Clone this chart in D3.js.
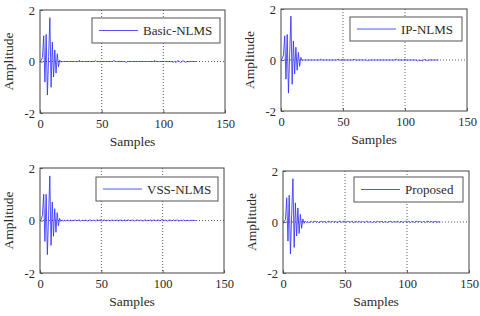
<!DOCTYPE html>
<html><head><meta charset="utf-8">
<script src="https://cdn.jsdelivr.net/npm/d3@7"></script>
<style>
html,body{margin:0;padding:0;background:#fff;}
svg{display:block;}
svg text{font-family:"Liberation Serif","Times New Roman",serif;}
</style></head>
<body><svg id="c" width="480" height="316"></svg>
<script>
// ---- data ----
const seriesNames = ["Basic-NLMS", "IP-NLMS", "VSS-NLMS", "Proposed"];
const xTicks = [0, 50, 100, 150];
const yTicks = [-2, 0, 2];
const xLabel = "Samples";
const yLabel = "Amplitude";

const basicNLMS = [
  0, 0.05, 0.15, 1.0, -0.8, 1.05, -1.3, 0.2, 1.7, -1.0,
  0.75, -0.6, 0.45, -0.45, 0.3, -0.2, 0.05, -0.02, 0, 0,
  0, 0, 0, 0, 0, 0, 0, 0, 0, 0,
  0, 0, 0.04, 0, 0, 0, 0, 0, 0, 0,
  0, 0, 0, 0, 0, 0.03, 0, 0, 0, 0,
  0, 0, 0, 0, 0, 0, 0, 0, 0, 0,
  0.04, 0, 0, 0, 0, 0, 0, 0, 0, 0,
  -0.04, 0, 0, 0, 0, 0, 0, 0, 0, 0,
  0, 0, 0, 0, 0, 0, 0, 0, 0, 0,
  0, 0, 0, 0.04, 0, 0, 0, 0, 0, 0,
  0, 0, 0, 0, 0, 0, 0, 0, -0.03, 0,
  -0.04, 0, 0.03, 0, -0.04, 0, 0.03, 0, -0.03, 0,
  0, 0, 0, 0, 0, 0, 0, 0
];
const ipNLMS = [
  0, 0.05, 0.2, 0.95, -0.75, 1.0, -1.3, 0.25, 1.72, -0.95,
  0.75, -0.55, 0.5, -0.4, 0.3, -0.25, 0.1, -0.03, 0, 0,
  0, 0, 0, 0, 0, 0, 0, 0, 0, 0,
  0, 0, 0.03, 0, 0, 0, 0, 0, 0, 0,
  0, 0, 0, 0, 0, 0, 0.03, 0, 0, 0,
  0.02, 0, 0, 0, 0, 0, 0, 0, 0, 0.03,
  0, 0, 0, 0, 0, 0, 0, 0, 0, 0,
  -0.03, 0, 0, 0, 0, 0, 0, 0, 0, 0,
  0, 0, 0, 0, 0, 0, 0, 0, 0, 0,
  0, 0, 0, 0.03, 0, 0, 0, 0, 0, 0,
  0.02, 0, 0, 0, 0, 0, 0, 0, 0, 0,
  -0.04, 0, -0.03, 0, -0.04, 0, 0.02, 0, -0.03, 0,
  0, 0, 0, 0, 0, 0, 0, 0
];
const vssNLMS = [
  0, 0.05, 0.2, 1.0, -0.8, 1.0, -1.3, 0.2, 1.7, -0.95,
  0.7, -0.6, 0.45, -0.45, 0.3, -0.2, 0.08, -0.03, 0.02, -0.02,
  0.01, -0.02, 0.02, 0, -0.01, 0.02, -0.02, 0.01, 0, 0.02,
  -0.01, 0.01, 0.02, -0.02, 0, 0.01, -0.01, 0.02, 0, -0.02,
  0.01, 0.02, -0.01, 0, 0.02, -0.02, 0.01, 0.03, -0.01, 0.02,
  0, -0.02, 0.02, 0.01, -0.01, 0, 0.02, -0.02, 0.01, 0.02,
  -0.01, 0.01, 0, 0.02, -0.02, 0.01, 0.02, -0.01, 0, 0.02,
  -0.02, 0.01, 0.02, 0, -0.01, 0.02, 0.01, -0.02, 0, 0.02,
  0.01, -0.01, 0.02, 0, -0.02, 0.01, 0.02, -0.01, 0.01, 0,
  0.02, -0.02, 0.01, 0.02, 0, -0.01, 0.02, 0.01, -0.02, 0.03,
  0.01, -0.01, 0.02, 0, -0.02, 0.01, 0.02, -0.01, 0, 0.02,
  -0.01, 0.01, 0.02, -0.02, 0, 0.01, -0.01, 0.02, 0, -0.01,
  0.01, 0, -0.01, 0.01, 0, 0.01, 0, 0
];
const proposed = [
  0, 0.02, 0.1, 0.95, -0.75, 1.05, -1.25, 0.3, 1.7, -1.0,
  0.75, -0.55, 0.55, -0.45, 0.3, -0.25, 0.12, -0.05, 0.03, -0.02,
  0.02, -0.03, 0.01, 0.03, -0.02, 0.02, 0.03, -0.01, 0.02, -0.03,
  0.01, 0.03, -0.02, 0.02, 0.01, -0.03, 0.02, 0.03, -0.01, 0.01,
  0.03, -0.02, 0.02, 0, -0.03, 0.02, 0.03, -0.02, 0.01, 0.03,
  0.02, -0.02, 0.03, 0.01, -0.02, 0.02, 0.03, -0.03, 0.01, 0.02,
  -0.02, 0.03, 0.01, -0.02, 0.02, 0.01, -0.03, 0.02, 0.03, -0.01,
  0.01, 0.02, -0.03, 0.02, 0.01, -0.02, 0.03, 0.01, -0.01, 0.02,
  0.03, -0.02, 0.01, 0.02, -0.03, 0.02, 0.01, 0.03, -0.02, 0.01,
  0.02, -0.01, 0.03, 0.01, -0.02, 0.02, 0.01, -0.03, 0.02, 0.03,
  -0.01, 0.02, 0.01, -0.02, 0.03, 0.01, -0.02, 0.02, 0.03, -0.01,
  0.02, 0.01, -0.03, 0.02, 0.01, -0.02, 0.02, 0.03, -0.01, 0.02,
  0.01, -0.02, 0.01, 0.02, -0.01, 0.01, 0, 0
];
const seriesValues = [basicNLMS, ipNLMS, vssNLMS, proposed];

// ---- layout (positions only) ----
const panels = [
  {l: 40,  r: 225, t: 10,  b: 113, lg: [92, 18, 128, 25]},
  {l: 281, r: 467, t: 9,   b: 111, lg: [350, 17, 112, 24]},
  {l: 40,  r: 224, t: 168, b: 273, lg: [96, 177, 122, 24]},
  {l: 283, r: 469, t: 171, b: 273, lg: [354, 177, 109, 25]}
];

const FONT = "Liberation Serif, Times New Roman, serif";
const svg = d3.select("#c");
const lineColor = "#3333ff";
const axisColor = "#444";
const textColor = "#2a2a2a";

panels.forEach((p, i) => {
  const vals = seriesValues[i];
  const x = d3.scaleLinear().domain([0, 150]).range([p.l, p.r]);
  const y = d3.scaleLinear().domain([-2, 2]).range([p.b, p.t]);
  const g = svg.append("g").attr("font-family", FONT);

  // grid (dotted)
  g.selectAll(".gx").data(xTicks.filter(v => v > 0 && v < 150)).enter().append("line")
    .attr("x1", d => x(d)).attr("x2", d => x(d)).attr("y1", p.t).attr("y2", p.b)
    .attr("stroke", "#333").attr("stroke-width", 0.8).attr("stroke-dasharray", "1,2");
  g.selectAll(".gy").data(yTicks.filter(v => v > -2 && v < 2)).enter().append("line")
    .attr("x1", p.l).attr("x2", p.r).attr("y1", d => y(d)).attr("y2", d => y(d))
    .attr("stroke", "#333").attr("stroke-width", 0.8).attr("stroke-dasharray", "1,2");

  // series line
  const line = d3.line().x((d, k) => x(k)).y(d => y(d));
  g.append("path").datum(vals).attr("d", line)
    .attr("fill", "none").attr("stroke", lineColor).attr("stroke-width", 0.85)
    .attr("stroke-linejoin", "round");

  // axes via d3 axis
  const fmt = d => String(d);
  const xAxis = d3.axisBottom(x).tickValues(xTicks).tickSize(-3).tickPadding(6).tickFormat(fmt);
  const gx = g.append("g").attr("transform", `translate(0,${p.b})`).call(xAxis);
  const yAxis = d3.axisLeft(y).tickValues(yTicks).tickSize(-3).tickPadding(5).tickFormat(fmt);
  const gy = g.append("g").attr("transform", `translate(${p.l},0)`).call(yAxis);
  [gx, gy].forEach(a => {
    a.attr("font-family", FONT);
    a.select(".domain").remove();
    a.selectAll(".tick line").attr("stroke", axisColor).attr("stroke-width", 0.8);
    a.selectAll("text").attr("font-family", FONT).attr("font-size", 12.5).attr("fill", textColor);
  });
  gx.selectAll("text").attr("dy", "0.71em");
  gy.selectAll("text").attr("dy", "0.35em");

  // frame
  g.append("rect").attr("x", p.l).attr("y", p.t).attr("width", p.r - p.l).attr("height", p.b - p.t)
    .attr("fill", "none").attr("stroke", axisColor).attr("stroke-width", 1);

  // axis labels
  g.append("text").attr("x", (p.l + p.r) / 2).attr("y", p.b + 33)
    .attr("text-anchor", "middle").attr("font-family", FONT).attr("font-size", 13.5).attr("fill", textColor).text(xLabel);
  g.append("text").attr("transform", `translate(${p.l - 27},${(p.t + p.b) / 2}) rotate(-90)`)
    .attr("text-anchor", "middle").attr("font-family", FONT).attr("font-size", 13.5).attr("fill", textColor).text(yLabel);

  // legend
  const [lx, ly, lw, lh] = p.lg;
  g.append("rect").attr("x", lx).attr("y", ly).attr("width", lw).attr("height", lh)
    .attr("fill", "#fff").attr("stroke", "#555").attr("stroke-width", 1);
  g.append("line").attr("x1", lx + 7).attr("x2", lx + 46).attr("y1", ly + lh / 2).attr("y2", ly + lh / 2)
    .attr("stroke", lineColor).attr("stroke-width", 0.85);
  g.append("text").attr("x", lx + 51).attr("y", ly + lh / 2).attr("dy", "0.35em")
    .attr("font-family", FONT).attr("font-size", 13).attr("fill", textColor).text(seriesNames[i]);
});
</script></body></html>
